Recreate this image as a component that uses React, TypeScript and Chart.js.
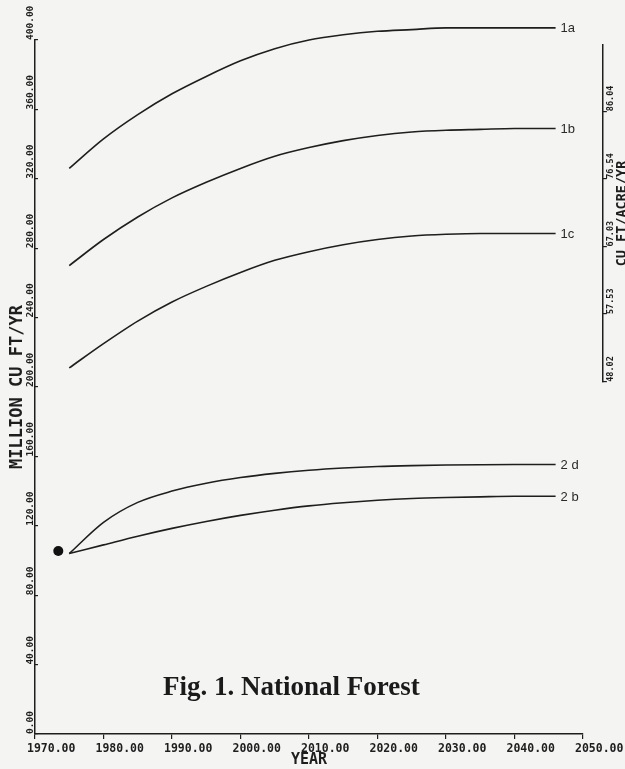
import React, { useEffect, useRef } from 'react';
import { Chart, registerables } from 'chart.js';

Chart.register(...registerables);

// ---- data ----
const YEARS = [1975, 1980, 1985, 1990, 1995, 2000, 2005, 2010, 2015, 2020, 2025, 2030, 2035, 2040, 2046];
const SERIES_1A = [326, 343, 357, 369, 379, 388, 395, 400, 403, 405, 406, 407, 407, 407, 407];
const SERIES_1B = [270, 285, 298, 309, 318, 326, 333, 338, 342, 345, 347, 348, 348.5, 349, 349];
const SERIES_1C = [211, 225, 238, 249, 258, 266, 273, 278, 282, 285, 287, 288, 288.5, 288.5, 288.5];
const SERIES_2D = [104, 122, 133.5, 140, 144.5, 147.8, 150.2, 152, 153.3, 154.2, 154.7, 155, 155.2, 155.3, 155.3];
const SERIES_2B = [104, 109, 114, 118.5, 122.5, 126, 129, 131.5, 133.3, 134.7, 135.7, 136.3, 136.7, 137, 137];
const SERIES_NAMES = ['1a', '1b', '1c', '2 d', '2 b'];
const START_YEARS = [1973.4];
const START_VALUES = [105.5];

const X_TICKS = [1970, 1980, 1990, 2000, 2010, 2020, 2030, 2040, 2050];
const Y_TICKS = [0, 40, 80, 120, 160, 200, 240, 280, 320, 360, 400];
const Y2_TICKS = [48.02, 57.53, 67.03, 76.54, 86.04];
const Y2_RANGE = [48.02, 95.3];
const Y2_SPAN = [203, 397]; // left-axis values where the right-hand axis starts / ends
const Y2_AT_YEAR = 2052.9; // x position of the right-hand axis

const X_TITLE = 'YEAR';
const Y_TITLE = 'MILLION CU FT/YR';
const Y2_TITLE = 'CU FT/ACRE/YR';
const CAPTION = 'Fig. 1. National Forest';

const MONO = '"DejaVu Sans Mono", monospace';
const INK = '#1e1e1e';

export default function App() {
  const ref = useRef<HTMLCanvasElement>(null);

  useEffect(() => {
    if (!ref.current) return;
    const fmt = (v: any) => Number(v).toFixed(2);
    const series = [SERIES_1A, SERIES_1B, SERIES_1C, SERIES_2D, SERIES_2B];

    const lineSets = series.map((vals, i) => ({
      type: 'line' as const,
      label: SERIES_NAMES[i],
      data: YEARS.map((x, k) => ({ x, y: vals[k] })),
      borderColor: INK,
      borderWidth: 1.6,
      pointRadius: 0,
      cubicInterpolationMode: 'monotone' as const,
      fill: false,
      clip: false as any,
    }));

    const dotSet = {
      type: 'scatter' as const,
      label: 'start',
      data: START_YEARS.map((x, k) => ({ x, y: START_VALUES[k] })),
      backgroundColor: '#111',
      borderWidth: 0,
      pointRadius: 5,
      clip: false as any,
    };

    const placeRightAxis = {
      id: 'placeRightAxis',
      afterLayout(chart: any) {
        const s = chart.scales.y2;
        const x = chart.scales.x;
        const y = chart.scales.y;
        const ax = x.getPixelForValue(Y2_AT_YEAR);
        s.left = ax;
        s.right = ax;
        s.width = 0;
        s.top = y.getPixelForValue(Y2_SPAN[1]);
        s.bottom = y.getPixelForValue(Y2_SPAN[0]);
        s.height = s.bottom - s.top;
        s.configure();
      },
    };

    const endLabels = {
      id: 'endLabels',
      afterDatasetsDraw(chart: any) {
        const ctx = chart.ctx;
        ctx.save();
        ctx.font = '13px "Liberation Sans", Arial, sans-serif';
        ctx.fillStyle = '#2a2a2a';
        ctx.textBaseline = 'middle';
        ctx.textAlign = 'left';
        SERIES_NAMES.forEach((name, i) => {
          const meta = chart.getDatasetMeta(i);
          const pt = meta.data[meta.data.length - 1];
          if (pt) ctx.fillText(name, pt.x + 5, pt.y + 1);
        });
        ctx.restore();
      },
    };

    const chart = new Chart(ref.current, {
      type: 'line',
      data: { datasets: [...lineSets, dotSet] as any },
      options: {
        animation: false,
        responsive: true,
        maintainAspectRatio: false,
        events: [],
        layout: { padding: { left: 9, top: 40, right: 42, bottom: 0 } },
        plugins: {
          legend: { display: false },
          tooltip: { enabled: false },
          title: {
            display: true,
            text: Y_TITLE,
            position: 'left',
            fullSize: false,
            color: INK,
            font: { family: MONO, size: 17, lineHeight: 1, weight: 'bold' },
            padding: 0,
          },
        },
        scales: {
          x: {
            type: 'linear',
            position: 'bottom',
            min: X_TICKS[0],
            max: X_TICKS[X_TICKS.length - 1],
            afterBuildTicks: (s: any) => { s.ticks = X_TICKS.map((value) => ({ value })); },
            afterFit: (s: any) => { s.height = 35; s.paddingLeft = 0; s.paddingRight = 0; },
            grid: { display: true, drawOnChartArea: false, drawTicks: true, tickLength: 5, color: INK, lineWidth: 1.2 },
            border: { display: true, color: INK, width: 1.5 },
            ticks: {
              autoSkip: false, minRotation: 0, maxRotation: 0, align: 'start', labelOffset: -8, padding: 4,
              color: INK, font: { family: MONO, size: 11.5, weight: 'bold', lineHeight: 1 }, callback: fmt,
            },
            title: { display: true, text: X_TITLE, color: INK, font: { family: MONO, size: 15, lineHeight: 1.2, weight: 'bold' }, padding: 0 },
          },
          y: {
            type: 'linear',
            position: 'left',
            min: Y_TICKS[0],
            max: Y_TICKS[Y_TICKS.length - 1],
            afterBuildTicks: (s: any) => { s.ticks = Y_TICKS.map((value) => ({ value })); },
            afterFit: (s: any) => { s.width = 9; s.paddingTop = 0; s.paddingBottom = 0; },
            grid: { display: true, drawOnChartArea: false, drawTicks: true, tickLength: -3, color: INK, lineWidth: 1.2 },
            border: { display: true, color: INK, width: 1.5 },
            ticks: {
              autoSkip: false, minRotation: 90, maxRotation: 90, crossAlign: 'far', align: 'start', padding: 0,
              color: INK, font: { family: MONO, size: 9.5, weight: 'bold', lineHeight: 1 }, callback: fmt,
            },
          },
          y2: {
            type: 'linear',
            axis: 'y',
            position: 'left',
            min: Y2_RANGE[0],
            max: Y2_RANGE[1],
            afterBuildTicks: (s: any) => { s.ticks = Y2_TICKS.map((value) => ({ value })); },
            afterFit: (s: any) => { s.width = 0; s.paddingTop = 0; s.paddingBottom = 0; },
            grid: { display: true, drawOnChartArea: false, drawTicks: true, tickLength: -4, color: INK, lineWidth: 1.2 },
            border: { display: true, color: INK, width: 1.5 },
            ticks: {
              autoSkip: false, minRotation: 90, maxRotation: 90, mirror: true, crossAlign: 'near', align: 'start', padding: 4,
              color: INK, font: { family: MONO, size: 8.5, weight: 'bold', lineHeight: 1 }, callback: fmt,
            },
            title: { display: true, text: Y2_TITLE, color: INK, font: { family: MONO, size: 13.5, lineHeight: 1, weight: 'bold' }, padding: { top: 12.5, bottom: 0 } },
          },
        },
      } as any,
      plugins: [placeRightAxis, endLabels],
    });
    return () => chart.destroy();
  }, []);

  return (
    <div style={{ position: 'absolute', left: 0, top: 0, width: 625, height: 769, background: '#f4f4f2', overflow: 'hidden' }}>
      <canvas ref={ref} />
      <div
        style={{
          position: 'absolute', left: 163, top: 671, whiteSpace: 'nowrap', lineHeight: 1,
          font: 'bold 27px "Liberation Serif", "Times New Roman", serif', color: '#1a1a1a',
        }}
      >
        {CAPTION}
      </div>
    </div>
  );
}
